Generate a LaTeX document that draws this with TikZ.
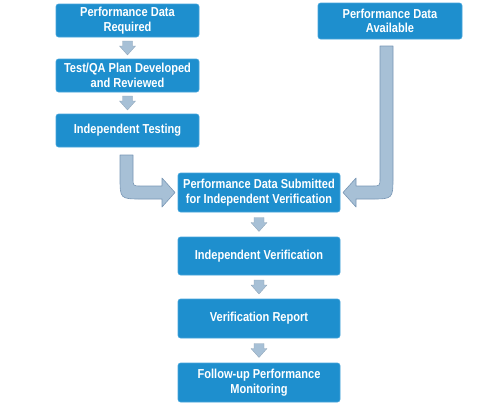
\documentclass[tikz,border=0pt]{standalone}
\usepackage{fontspec}
\setmainfont[FakeStretch=0.85]{Liberation Sans}
\usetikzlibrary{calc}
\definecolor{boxblue}{RGB}{30,143,206}
\definecolor{boxedge}{RGB}{70,165,220}
\definecolor{arrfill}{RGB}{167,192,214}
\definecolor{arredge}{RGB}{120,150,180}
\tikzset{
  flowbox/.style={draw=boxedge, line width=0.6pt, fill=boxblue, rounded corners=2.5pt,
    text=white, font=\fontsize{13}{14.5}\selectfont\bfseries, align=center,
    inner sep=0pt},
  smallarr/.style={fill=arrfill, draw=arrfill!85!black, line width=0.3pt},
  bigarr/.style={fill=arrfill, draw=arredge, line width=0.6pt, line join=round},
}
\newcommand\smallarrow[2]{%
  \path[smallarr] ($(#1.south)!0.5!(#2.north)$) ++(-5,-7) -- ++(10,0) -- ++(0,5)
    -- ++(3,0) -- ++(-8,9) -- ++(-8,-9) -- ++(3,0) -- cycle;}
\begin{document}
\begin{tikzpicture}[x=1pt,y=-1pt]
\useasboundingbox (0,0) rectangle (500,405);
% left column
\node[flowbox, minimum width=143pt, minimum height=33pt] (b1) at (127.5,20.5) {Performance Data\\Required};
\node[flowbox, minimum width=143pt, minimum height=33pt] (b2) at (127.5,75.5) {Test/QA Plan Developed\\and Reviewed};
\node[flowbox, minimum width=143pt, minimum height=33pt] (b3) at (127.5,130.5) {Independent Testing};
% right box
\node[flowbox, minimum width=144pt, minimum height=36pt] (b4) at (390,21) {Performance Data\\Available};
% center column
\node[flowbox, minimum width=162pt, minimum height=39pt] (b5) at (259,192.5) {Performance Data Submitted\\for Independent Verification};
\node[flowbox, minimum width=162pt, minimum height=38pt] (b6) at (259,256) {Independent Verification};
\node[flowbox, minimum width=162pt, minimum height=39pt] (b7) at (259,318.5) {Verification Report};
\node[flowbox, minimum width=162pt, minimum height=39pt] (b8) at (259,382.5) {Follow-up Performance\\Monitoring};
% small arrows
\smallarrow{b1}{b2}
\smallarrow{b2}{b3}
\smallarrow{b5}{b6}
\smallarrow{b6}{b7}
\smallarrow{b7}{b8}
% big left arrow (b3 -> b5)
\path[bigarr] (120,155) -- (120,177) .. controls (120,199) .. (142,199) -- (162,199)
  -- (162,207) -- (175,192.5) -- (162,178) -- (162,186) -- (141,186)
  .. controls (133,186) .. (133,178) -- (133,155) -- cycle;
% big right arrow (b4 -> b5)
\path[bigarr] (393,46) -- (393,177) .. controls (393,199) .. (371,199) -- (356,199)
  -- (356,207) -- (343,192.5) -- (356,178) -- (356,186) -- (372,186)
  .. controls (380,186) .. (380,178) -- (380,46) -- cycle;
\end{tikzpicture}
\end{document}
